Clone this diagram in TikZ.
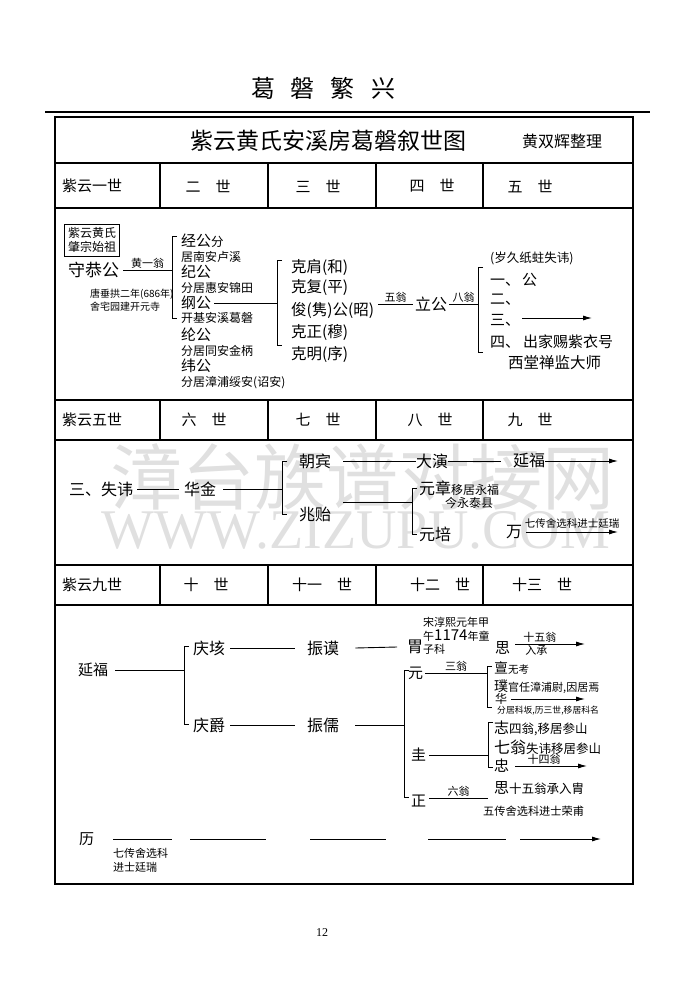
\documentclass[tikz,border=0pt]{standalone}
\usepackage{fontspec}
\setmainfont{Noto Sans CJK SC}
\newfontfamily\wmfont{Liberation Serif}
\usetikzlibrary{arrows.meta}

\begin{document}
\begin{tikzpicture}[x=1pt, y=-1pt,
    ren/.style={anchor=west, inner sep=0pt, font=\fontsize{16}{16}\selectfont},
    zhu/.style={anchor=west, inner sep=0pt, font=\fontsize{12}{12}\selectfont},
    weng/.style={inner sep=1pt, font=\fontsize{11}{11}\selectfont},
    shi/.style={inner sep=0pt, font=\fontsize{15}{15}\selectfont},
    lian/.style={line width=0.9pt},
    kuo/.style={line width=0.9pt},
    jian/.style={line width=0.9pt, -{Latex[length=9pt, width=5pt]}},
    ge/.style={line width=1.2pt}]

\useasboundingbox (0,0) rectangle (695,1000);

% watermark
\node[text=black!12, inner sep=0pt, font=\fontsize{72}{72}\selectfont] (shuiyin) at (362,477) {漳台族谱对接网};
\node[text=black!12, inner sep=0pt, font=\wmfont\fontsize{56}{56}\selectfont] (wangzhi) at (356,530) {WWW.ZIZUPU.COM};

% page title
\node[inner sep=0pt, font=\fontsize{24}{24}\selectfont] (biaoti) at (323,88) {葛\hspace{16pt}磐\hspace{16pt}繁\hspace{16pt}兴};
\draw[ge] (45,112) -- (650,112);

% frame and rows
\draw[line width=1.5pt] (55,117) rectangle (633,884);
\foreach \y in {163,208,400,440,565,605}
  \draw[ge] (55,\y) -- (633,\y);
\foreach \ya/\yb in {163/208,400/440,565/605}
  \foreach \x in {160,268,376,483}
    \draw[ge] (\x,\ya) -- (\x,\yb);

\node[inner sep=0pt, font=\fontsize{23}{23}\selectfont] (tuming) at (328,141) {紫云黄氏安溪房葛磐叙世图};
\node[inner sep=0pt, font=\fontsize{16}{16}\selectfont] (zhengli) at (562,141) {黄双辉整理};

% generation headers
\node[shi, anchor=west] (h1) at (62,186) {紫云一世};
\node[shi] (h2) at (208,186) {二\hspace{1em}世};
\node[shi] (h3) at (318,186) {三\hspace{1em}世};
\node[shi] (h4) at (432,186) {四\hspace{1em}世};
\node[shi] (h5) at (530,186) {五\hspace{1em}世};
\node[shi, anchor=west] (h6) at (62,420) {紫云五世};
\node[shi] (h7) at (204,420) {六\hspace{1em}世};
\node[shi] (h8) at (318,420) {七\hspace{1em}世};
\node[shi] (h9) at (430,420) {八\hspace{1em}世};
\node[shi] (h10) at (530,420) {九\hspace{1em}世};
\node[shi, anchor=west] (h11) at (62,585) {紫云九世};
\node[shi] (h12) at (206,585) {十\hspace{1em}世};
\node[shi] (h13) at (322,585) {十一\hspace{1em}世};
\node[shi] (h14) at (440,585) {十二\hspace{1em}世};
\node[shi] (h15) at (542,585) {十三\hspace{1em}世};

% first to fifth generation
\node[draw, line width=0.9pt, inner sep=3.5pt, align=center, font=\fontsize{12}{14}\selectfont] (shizu) at (92,240) {紫云黄氏\\肇宗始祖};
\node[ren, font=\fontsize{17}{17}\selectfont] (shougong) at (68,270) {守恭公};
\node[zhu, align=left, font=\fontsize{10}{13}\selectfont] (kaiyuan) at (90,300) {唐垂拱二年(686年)\\舍宅园建开元寺};

\coordinate (k1) at (172,236);
\draw[kuo] ([xshift=5pt]k1) -- (k1) -- ++(0,82) -- ++(5,0);
\draw[lian] ([xshift=4pt]shougong.east) -- (shougong.east -| k1) node[weng, midway, above] {黄一翁};

\node[ren, font=\fontsize{15}{15}\selectfont] (jinggong) at (181,241) {经公{\fontsize{12.5}{12.5}\selectfont 分}};
\node[zhu] (jinggong-a) at (181,257) {居南安卢溪};
\node[ren, font=\fontsize{15}{15}\selectfont] (jigong) at (181,272) {纪公};
\node[zhu] (jigong-a) at (181,288) {分居惠安锦田};
\node[ren, font=\fontsize{15}{15}\selectfont] (ganggong) at (181,303) {纲公};
\node[zhu] (ganggong-a) at (181,318) {开基安溪葛磐};
\node[ren, font=\fontsize{15}{15}\selectfont] (lungong) at (181,335) {纶公};
\node[zhu] (lungong-a) at (181,351) {分居同安金柄};
\node[ren, font=\fontsize{15}{15}\selectfont] (weigong) at (181,366) {纬公};
\node[zhu] (weigong-a) at (181,383) {分居漳浦绥安(诏安)};

\coordinate (k2) at (277,260);
\draw[kuo] ([xshift=5pt]k2) -- (k2) -- ++(0,85) -- ++(5,0);
\draw[lian] ([xshift=3pt]ganggong.east) -- (ganggong.east -| k2);

\node[ren, font=\fontsize{15.5}{15.5}\selectfont] (kejian) at (291,267) {克肩(和)};
\node[ren, font=\fontsize{15.5}{15.5}\selectfont] (kefu) at (291,288) {克复(平)};
\node[ren, font=\fontsize{15.5}{15.5}\selectfont] (jungong) at (291,310) {俊(隽)公(昭)};
\node[ren, font=\fontsize{15.5}{15.5}\selectfont] (kezheng) at (291,332) {克正(穆)};
\node[ren, font=\fontsize{15.5}{15.5}\selectfont] (keming) at (291,354) {克明(序)};

\node[ren] (ligong) at (415,304) {立公};
\draw[lian] ([xshift=4pt]jungong.east |- ligong.west) -- ([xshift=-2pt]ligong.west) node[weng, midway, above] {五翁};

\coordinate (k3) at (478,267);
\draw[kuo] ([xshift=5pt]k3) -- (k3) -- ++(0,85) -- ++(5,0);
\draw[lian] ([xshift=2pt]ligong.east) -- (ligong.east -| k3) node[weng, midway, above] {八翁};

\node[zhu, font=\fontsize{12.5}{12.5}\selectfont] (shihui) at (490,258) {(岁久纸蛀失讳)};
\node[ren, font=\fontsize{15}{15}\selectfont] (yi) at (490,280) {一、\hspace{2pt}公};
\node[ren, font=\fontsize{15}{15}\selectfont] (er) at (490,300) {二、};
\node[ren, font=\fontsize{15}{15}\selectfont] (san) at (490,320) {三、};
\coordinate (san-end) at (592,318);
\draw[jian] ([xshift=2pt, yshift=2pt]san.east) -- (san-end);
\node[ren, font=\fontsize{15}{15}\selectfont] (si) at (490,342) {四、\hspace{3pt}出家赐紫衣号};
\node[ren, font=\fontsize{15.5}{15.5}\selectfont] (dashi) at (508,363) {西堂禅监大师};

% fifth to ninth generation
\node[ren] (sanshi) at (69,489) {三、失讳};
\node[ren] (huajin) at (184,489) {华金};
\draw[lian] ([xshift=4pt]sanshi.east) -- ([xshift=-5pt]huajin.west);
\coordinate (k4) at (282,461);
\draw[kuo] ([xshift=5pt]k4) -- (k4) -- ++(0,53) -- ++(5,0);
\draw[lian] ([xshift=7pt]huajin.east) -- (huajin.east -| k4);

\node[ren] (chaobin) at (299,461) {朝宾};
\node[ren] (zhaoyi) at (299,514) {兆贻};
\node[ren] (dayan) at (416,461) {大演};
\node[ren] (yanfu) at (513,461) {延福};
\draw[lian] ([xshift=12pt]chaobin.east) -- (dayan.west);
\draw[lian] (dayan.east) -- ([xshift=-12pt]yanfu.west);
\coordinate (yanfu-end) at (618,461);
\draw[jian] (yanfu.east) -- (yanfu-end);

\coordinate (k5) at (412,488);
\draw[kuo] ([xshift=5pt]k5) -- (k5) -- ++(0,46) -- ++(5,0);
\coordinate (zy) at ([yshift=12pt]zhaoyi.east);
\draw[lian] ([xshift=12pt]zy) -- (zy -| k5);
\node[ren] (yuanzhang) at (419,488) {元章{\fontsize{12}{12}\selectfont 移居永福}};
\node[zhu] (yongtai) at (445,503) {今永泰县};
\node[ren] (yuanpei) at (419,534) {元培};
\node[ren] (wan) at (506,532) {万};
\coordinate (wan-end) at (618,532);
\draw[jian] ([xshift=4pt]wan.east) -- (wan-end) node[weng, midway, above=2pt, font=\fontsize{10.5}{10.5}\selectfont] {七传舍选科进士廷瑞};

% ninth to thirteenth generation
\node[ren, font=\fontsize{15}{15}\selectfont] (yanfu2) at (78,670) {延福};
\coordinate (k6) at (184,646);
\draw[kuo] ([xshift=5pt]k6) -- (k6) -- ++(0,78) -- ++(5,0);
\draw[lian] ([xshift=7pt]yanfu2.east) -- (yanfu2.east -| k6);
\node[ren] (qinggai) at (193,648) {庆垓};
\node[ren] (qingjue) at (193,725) {庆爵};
\node[ren] (zhenmo) at (307,648) {振谟};
\node[ren] (zhenru) at (307,725) {振儒};
\draw[lian] ([xshift=5pt]qinggai.east) -- ([xshift=-12pt]zhenmo.west);
\draw[lian] ([xshift=5pt]qingjue.east) -- ([xshift=-12pt]zhenru.west);

\node[ren] (wei) at (407,647) {胃};
\draw[lian] ([xshift=16pt]zhenmo.east) -- ([xshift=-10pt]wei.west);
\node[zhu, align=left, font=\fontsize{11}{13.5}\selectfont] (songchun) at (423,636) {宋淳熙元年甲\\午{\fontsize{15}{15}\selectfont 1174}年童\\子科};
\node[ren, font=\fontsize{15}{15}\selectfont] (si1) at (495,648) {思};
\coordinate (si1-end) at (585,644);
\draw[jian] ([xshift=5pt, yshift=4pt]si1.east) -- (si1-end) node[weng, pos=0.35, above] {十五翁} node[weng, pos=0.3, below] {入承};

\coordinate (k7) at (404,670);
\draw[kuo] ([xshift=5pt]k7) -- (k7) -- ++(0,127) -- ++(5,0);
\draw[lian] ([xshift=16pt]zhenru.east) -- (zhenru.east -| k7);

\node[ren, font=\fontsize{15}{15}\selectfont] (yuan) at (408,673) {元};
\coordinate (k8) at (487,666);
\draw[kuo] ([xshift=5pt]k8) -- (k8) -- ++(0,41) -- ++(5,0);
\draw[lian] ([xshift=2pt]yuan.east) -- (yuan.east -| k8) node[weng, midway, above] {三翁};
\node[ren, font=\fontsize{14}{14}\selectfont] (dan) at (494,668) {亶{\fontsize{10.5}{10.5}\selectfont 无考}};
\node[ren, font=\fontsize{14}{14}\selectfont] (pu) at (494,687) {璞{\fontsize{11}{11}\selectfont 官任漳浦尉,因居焉}};
\node[ren, font=\fontsize{12}{12}\selectfont] (hua) at (495,699) {华};
\coordinate (hua-end) at (585,699);
\draw[jian] ([xshift=4pt]hua.east) -- (hua-end);
\node[zhu, font=\fontsize{8.8}{8.8}\selectfont] (kefang) at (497,711) {分居科坂,历三世,移居科名};

\node[ren, font=\fontsize{15}{15}\selectfont] (gui) at (411,755) {圭};
\coordinate (k9) at (488,722);
\draw[kuo] ([xshift=5pt]k9) -- (k9) -- ++(0,45) -- ++(5,0);
\draw[lian] ([xshift=3pt]gui.east) -- (gui.east -| k9);
\node[ren, font=\fontsize{15}{15}\selectfont] (zhi) at (494,728) {志{\fontsize{12.5}{12.5}\selectfont 四翁,移居参山}};
\node[ren] (qiweng) at (494,747) {七翁{\fontsize{12.5}{12.5}\selectfont 失讳移居参山}};
\node[ren, font=\fontsize{15}{15}\selectfont] (zhong) at (494,766) {忠};
\coordinate (zhong-end) at (587,766);
\draw[jian] ([xshift=6pt]zhong.east) -- (zhong-end) node[weng, pos=0.4, above] {十四翁};
\node[ren, font=\fontsize{15}{15}\selectfont] (si2) at (494,788) {思{\fontsize{12.5}{12.5}\selectfont 十五翁承入胄}};

\node[ren, font=\fontsize{15}{15}\selectfont] (zheng) at (411,801) {正};
\coordinate (zheng-end) at (488,798);
\draw[lian] ([xshift=3pt, yshift=3pt]zheng.east) -- (zheng-end) node[weng, midway, above] {六翁};
\node[zhu, font=\fontsize{11.2}{11.2}\selectfont] (rongfu) at (483,811) {五传舍选科进士荣甫};

% bottom line
\node[ren, font=\fontsize{15}{15}\selectfont] (li) at (79,839) {历};
\coordinate (d1) at (172,839);
\draw[lian] ([xshift=19pt]li.east) -- (d1);
\node[zhu, align=left, font=\fontsize{11}{14}\selectfont] (yanrui) at (113,860) {七传舍选科\\进士廷瑞};
\foreach \xa/\xb in {190/266, 310/386, 428/506}
  \draw[lian] (\xa,839) -- (\xb,839);
\draw[jian] (520,839) -- (601,839);

% page number
\node[inner sep=0pt, font=\wmfont\fontsize{12}{12}\selectfont] (yema) at (322,933) {12};
\end{tikzpicture}
\end{document}
